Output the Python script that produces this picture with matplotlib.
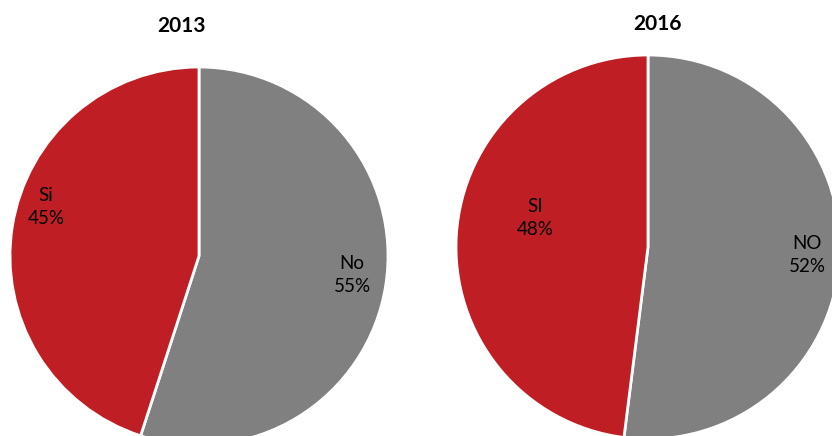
import matplotlib.pyplot as plt

plt.rcParams['font.family'] = ['Lato', 'DejaVu Sans']

# data
years = ["2013", "2016"]
labels_2013 = ["No", "Si"]
values_2013 = [55, 45]
labels_2016 = ["NO", "SI"]
values_2016 = [52, 48]
colors = ["#808080", "#BE1E24"]

W, H = 832, 436
fig = plt.figure(figsize=(W / 100, H / 100), dpi=100)

def pie_axes(cx, cy, r):
    # pixel center/radius -> figure fraction axes
    return fig.add_axes([(cx - r) / W, (H - cy - r) / H, 2 * r / W, 2 * r / H])

def draw_pie(ax, labels, values, label_pos, title, title_xy):
    ax.pie(values, colors=colors, startangle=90, counterclock=False,
           wedgeprops=dict(edgecolor="white", linewidth=2))
    ax.set_xlim(-1.0, 1.0)
    ax.set_ylim(-1.0, 1.0)
    for lab, val, (x, y) in zip(labels, values, label_pos):
        ax.text(x, y, f"{lab}\n{val}%", ha="center", va="center",
                fontsize=13.5, color="black", linespacing=1.45)
    fig.text(title_xy[0] / W, 1 - title_xy[1] / H, title, ha="center", va="center",
             fontsize=15, fontweight="bold")

ax1 = pie_axes(199, 256, 189)
draw_pie(ax1, labels_2013, values_2013, [(0.81, -0.10), (-0.81, 0.26)],
         years[0], (181, 26))

ax2 = pie_axes(648, 247, 192)
draw_pie(ax2, labels_2016, values_2016, [(0.83, -0.04), (-0.59, 0.15)],
         years[1], (657, 24))

fig.savefig("out.png", dpi=100)
